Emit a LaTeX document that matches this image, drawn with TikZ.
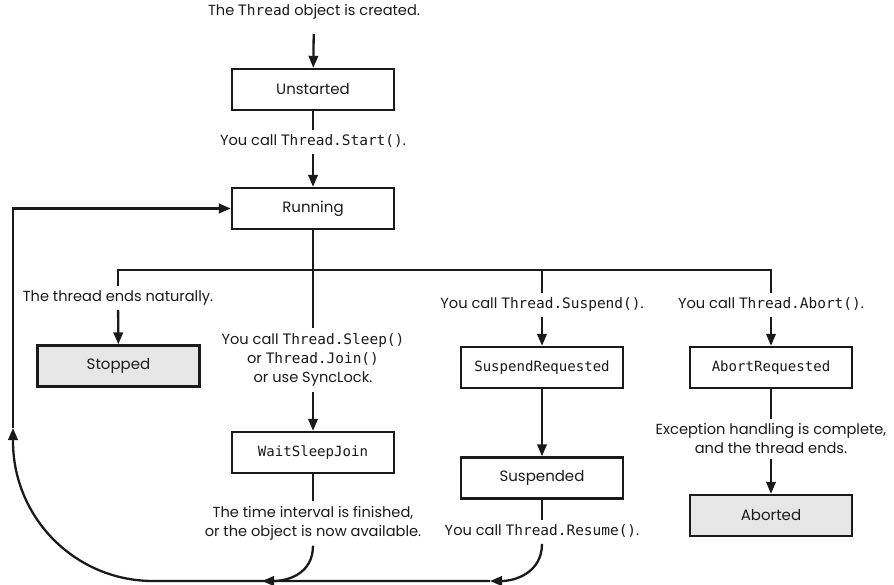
\documentclass[tikz,border=0pt]{standalone}
\usepackage{fontspec}
\setmainfont{Poppins}
\setmonofont{DejaVu Sans Mono}[Scale=0.99]
\usetikzlibrary{arrows.meta}
\definecolor{ink}{HTML}{1A1A1A}
\definecolor{boxgray}{HTML}{E6E6E6}
\newcommand\tcode[1]{\texttt{#1}}
\newcommand\lblfont{\fontsize{14.6}{19}\selectfont}
\newcommand\boxfont{\fontsize{15}{18}\selectfont}
\newcommand\codeboxfont{\fontsize{14.2}{18}\selectfont\ttfamily}
\begin{document}
\begin{tikzpicture}[x=1pt,y=-1pt,
  >={Triangle[length=12pt,width=9.5pt]},
  conn/.style={line width=2.3pt, draw=ink},
  state/.style={draw=ink, line width=2.4pt, minimum width=162pt, minimum height=41pt,
    inner sep=0pt, font=\boxfont, text=ink, fill=white},
  final/.style={state, fill=boxgray},
  codestate/.style={state, font=\codeboxfont},
  lbl/.style={align=center, font=\lblfont, text=ink, inner xsep=0pt, inner ysep=5pt,
    text height=10pt, text depth=3.5pt},
  lblm/.style={align=center, font=\lblfont, text=ink, inner xsep=0pt, inner ysep=5pt}]
\useasboundingbox (0,0) rectangle (894,585);

% states
\node[lbl] (tCreate) at (314,12) {The \tcode{Thread} object is created.};
\node[state] (unst) at (313,89.5) {Unstarted};
\node[lbl] (tStart) at (313,142) {You call \tcode{Thread.Start()}.};
\node[state] (run) at (313,208.5) {Running};
\coordinate (jn) at (313,270);

\node[lbl] (tEnd) at (118,298) {The thread ends naturally.};
\node[final] (stop) at (118.5,366) {Stopped};

\node[lblm] (tSleep) at (313,360) {You call \tcode{Thread.Sleep()}\\ or \tcode{Thread.Join()}\\ or use SyncLock.};
\node[codestate] (wsj) at (313,452.5) {WaitSleepJoin};
\node[lblm] (tTime) at (313,523.5) {The time interval is finished,\\ or the object is now available.};

\node[lbl] (tSus) at (542,305) {You call \tcode{Thread.Suspend()}.};
\node[codestate] (susreq) at (542,367.5) {SuspendRequested};
\node[state] (sus) at (542,478) {Suspended};
\node[lbl] (tRes) at (542,532) {You call \tcode{Thread.Resume()}.};

\node[lbl] (tAbort) at (771,305) {You call \tcode{Thread.Abort()}.};
\node[codestate] (abreq) at (771,367.5) {AbortRequested};
\node[lblm] (tExc) at (771,439) {Exception handling is complete,\\ and the thread ends.};
\node[final] (abort) at (771,515.5) {Aborted};

% main chain
\draw[conn,->,shorten <=10pt] (tCreate) -- (unst);
\draw[conn] (unst) -- (tStart);
\draw[conn,->] (tStart) -- (run);
\draw[conn] (run) -- (jn);

% branches
\draw[conn] (tEnd.north) |- (tAbort.north |- jn) -- (tAbort.north);
\draw[conn] (jn) -- (tSleep);
\draw[conn] (tSus.north |- jn) -- (tSus);
\draw[conn,->] (tEnd) -- (stop);
\draw[conn,->] (tSleep) -- (wsj);
\draw[conn] (wsj) -- (tTime);
\draw[conn,->] (tSus) -- (susreq);
\draw[conn,->] (susreq) -- (sus);
\draw[conn] (sus) -- (tRes);
\draw[conn,->] (tAbort) -- (abreq);
\draw[conn] (abreq) -- (tExc);
\draw[conn,->] (tExc) -- (abort);

% return to Running
\coordinate (m1) at (262,581);
\coordinate (m2) at (490,581);
\coordinate (bl) at (153,581);
\coordinate (up) at (13,428);
\draw[conn,->] (tTime.south) .. controls +(0,28) and +(26,0) .. (m1);
\draw[conn,->] (tRes.south) .. controls +(0,28) and +(26,0) .. (m2);
\draw[conn,->] (m2) -- (bl) arc[start angle=90, end angle=180, radius=140] -- (up);
\draw[conn,->] (up) |- (run.west);
\end{tikzpicture}
\end{document}
